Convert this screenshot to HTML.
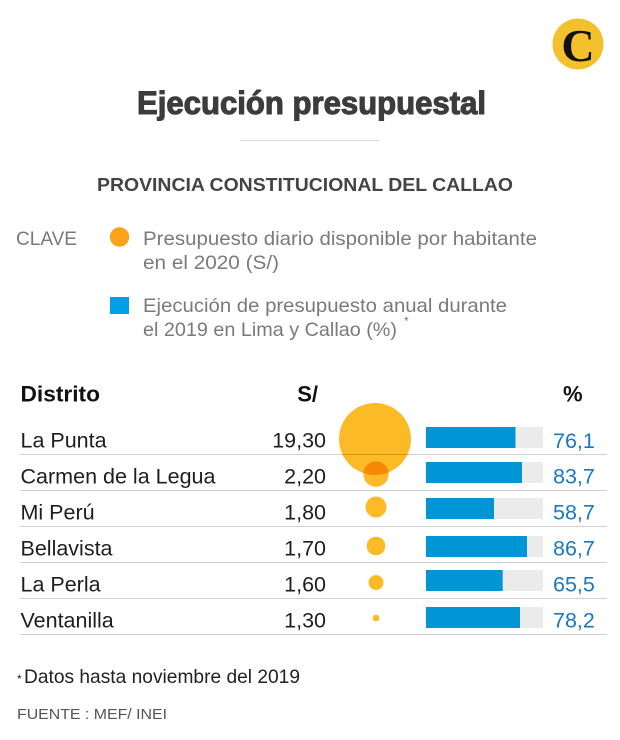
<!DOCTYPE html>
<html>
<head>
<meta charset="utf-8">
<style>
html,body{margin:0;padding:0;background:#fff;}
svg{display:block;}
text{font-family:"Liberation Sans",Arial,sans-serif;}
</style>
</head>
<body>
<svg width="620" height="740" viewBox="0 0 620 740" xmlns="http://www.w3.org/2000/svg">
<rect width="620" height="740" fill="#fff"/>
<!-- logo -->
<circle cx="578" cy="44" r="25.5" fill="#f4c02b"/>
<text x="578" y="61" text-anchor="middle" font-weight="bold" font-size="46" fill="#111" style="font-family:'Liberation Serif',serif">C</text>

<!-- title -->
<text x="137" y="114" font-size="32" font-weight="bold" fill="#3c3c3c" stroke="#3c3c3c" stroke-width="1.1" textLength="349" lengthAdjust="spacingAndGlyphs">Ejecución presupuestal</text>
<line x1="240" y1="140.5" x2="380" y2="140.5" stroke="#dcdcdc" stroke-width="1"/>
<text x="97" y="191" font-size="18.5" font-weight="bold" fill="#444" textLength="416" lengthAdjust="spacingAndGlyphs">PROVINCIA CONSTITUCIONAL DEL CALLAO</text>

<!-- legend -->
<text x="16" y="245" font-size="19" fill="#7a7a7a" textLength="61" lengthAdjust="spacingAndGlyphs">CLAVE</text>
<circle cx="119.5" cy="237" r="9.7" fill="#f9a21b"/>
<text x="143" y="245" font-size="19.5" fill="#7a7a7a" textLength="394" lengthAdjust="spacingAndGlyphs">Presupuesto diario disponible por habitante</text>
<text x="143" y="269" font-size="19.5" fill="#7a7a7a" textLength="136" lengthAdjust="spacingAndGlyphs">en el 2020 (S/)</text>
<rect x="110" y="297" width="19" height="17" fill="#00a0e9"/>
<text x="143" y="312" font-size="19.5" fill="#7a7a7a" textLength="364" lengthAdjust="spacingAndGlyphs">Ejecución de presupuesto anual durante</text>
<text x="143" y="336" font-size="19.5" fill="#7a7a7a" textLength="254" lengthAdjust="spacingAndGlyphs">el 2019 en Lima y Callao (%)</text>
<text x="404" y="325" font-size="12" fill="#7a7a7a">*</text>

<!-- header -->
<text x="20.5" y="401.5" font-size="22" font-weight="bold" fill="#111" textLength="79.5" lengthAdjust="spacingAndGlyphs">Distrito</text>
<text x="318" y="401.5" font-size="22" font-weight="bold" fill="#111" text-anchor="end">S/</text>
<text x="563" y="401.5" font-size="22" font-weight="bold" fill="#111">%</text>

<!-- separators -->
<g stroke="#cfcfcf" stroke-width="1">
<line x1="20" y1="454.5" x2="607" y2="454.5"/>
<line x1="20" y1="490.5" x2="607" y2="490.5"/>
<line x1="20" y1="526.5" x2="607" y2="526.5"/>
<line x1="20" y1="562.5" x2="607" y2="562.5"/>
<line x1="20" y1="598.5" x2="607" y2="598.5"/>
<line x1="20" y1="634.5" x2="607" y2="634.5"/>
</g>

<!-- names -->
<g font-size="21.5" fill="#1e1e1e">
<text x="20.5" y="447.5">La Punta</text>
<text x="20.5" y="483.5" textLength="195" lengthAdjust="spacingAndGlyphs">Carmen de la Legua</text>
<text x="20.5" y="519.5">Mi Perú</text>
<text x="20.5" y="555.5">Bellavista</text>
<text x="20.5" y="591.5">La Perla</text>
<text x="20.5" y="627.5">Ventanilla</text>
</g>
<g font-size="21.5" fill="#1e1e1e" text-anchor="end">
<text x="326" y="447.5">19,30</text>
<text x="326" y="483.5">2,20</text>
<text x="326" y="519.5">1,80</text>
<text x="326" y="555.5">1,70</text>
<text x="326" y="591.5">1,60</text>
<text x="326" y="627.5">1,30</text>
</g>

<!-- bars -->
<g fill="#ebebeb">
<rect x="426" y="427" width="117" height="21"/>
<rect x="426" y="462" width="117" height="21"/>
<rect x="426" y="498" width="117" height="21"/>
<rect x="426" y="536" width="117" height="21"/>
<rect x="426" y="570" width="117" height="21"/>
<rect x="426" y="607" width="117" height="21"/>
</g>
<g fill="#0096d6">
<rect x="426" y="427" width="89.5" height="21"/>
<rect x="426" y="462" width="96" height="21"/>
<rect x="426" y="498" width="68" height="21"/>
<rect x="426" y="536" width="101" height="21"/>
<rect x="426" y="570" width="76.7" height="21"/>
<rect x="426" y="607" width="94" height="21"/>
</g>
<g font-size="21.5" fill="#1a78c2">
<text x="553" y="448">76,1</text>
<text x="553" y="483.5">83,7</text>
<text x="553" y="519.5">58,7</text>
<text x="553" y="555.5">86,7</text>
<text x="553" y="591.5">65,5</text>
<text x="553" y="627.5">78,2</text>
</g>

<!-- circles -->
<g fill="#fbba26">
<circle cx="375" cy="439" r="36" style="mix-blend-mode:multiply"/>
<circle cx="376" cy="474" r="12.7" style="mix-blend-mode:multiply"/>
</g>
<g fill="#fbba26">
<circle cx="376" cy="507" r="10.5"/>
<circle cx="376" cy="546" r="9.3"/>
<circle cx="376" cy="582.5" r="7.4"/>
<circle cx="376" cy="618" r="3.3"/>
</g>

<!-- footer -->
<text x="17" y="683" font-size="12" fill="#222">*</text>
<text x="24" y="683" font-size="19.5" fill="#222" textLength="276" lengthAdjust="spacingAndGlyphs">Datos hasta noviembre del 2019</text>
<text x="17" y="719" font-size="15" fill="#555" textLength="150" lengthAdjust="spacingAndGlyphs">FUENTE : MEF/ INEI</text>
</svg>
</body>
</html>
